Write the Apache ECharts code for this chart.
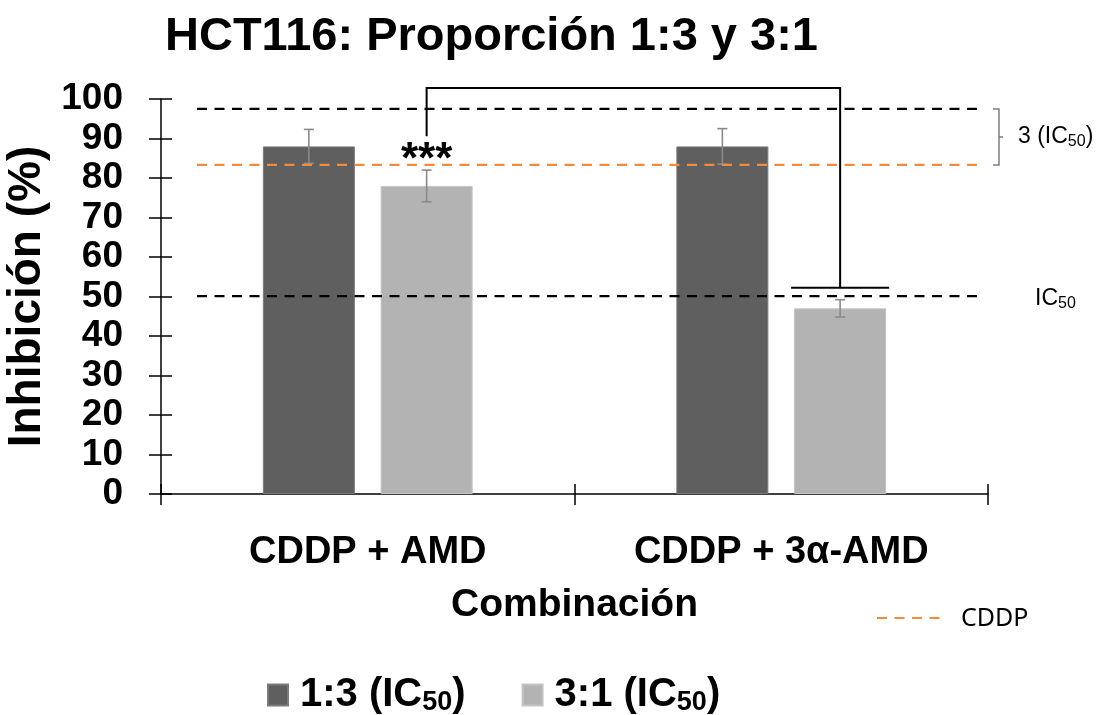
<!DOCTYPE html>
<html>
<head>
<meta charset="utf-8">
<script src="https://cdn.jsdelivr.net/npm/echarts@6/dist/echarts.min.js"></script>
<style>
html,body{margin:0;padding:0;background:#fff;}
#c{width:1098px;height:715px;}
</style>
</head>
<body>
<div id="c"></div>
<script>
// ---- data ----
const categories = ['CDDP + AMD', 'CDDP + 3\u03b1-AMD'];
const seriesNames = ['1:3 (IC50)', '3:1 (IC50)'];
const values13 = [88, 88];
const values31 = [78, 47];
const errors13 = [4.3, 4.5];
const errors31 = [4.0, 2.2];
const yTicks = [0, 10, 20, 30, 40, 50, 60, 70, 80, 90, 100];
const refLines = [
  { name: '3 (IC50)', value: 97.5, color: '#000000' },
  { name: 'CDDP', value: 83.3, color: '#f08a3c' },
  { name: 'IC50', value: 50.1, color: '#000000' }
];
const bracket = { fromCat: 0, toCat: 1, start: 90.6, top: 102.8, end: 52.2 };
const significance = { cat: 0, text: '***', value: 82.3 };

const FONT = '"Liberation Sans", Arial, sans-serif';
const BAR_W = 0.2225;   // fraction of band
const BAR_GAP = 0.28;   // fraction of bar width
const colors = ['#5f5f5f', '#b3b3b3'];

function barOffset(api, i) {
  const band = api.size([1, 0])[0];
  const bw = band * BAR_W;
  return (i - 0.5) * (bw + bw * BAR_GAP);
}

const chart = echarts.init(document.getElementById('c'), null, { renderer: 'canvas' });

const errData = [];
[values13, values31].forEach((vals, si) => {
  const errs = si === 0 ? errors13 : errors31;
  vals.forEach((v, ci) => errData.push([ci, v, errs[ci], si]));
});

const option = {
  backgroundColor: '#ffffff',
  animation: false,
  title: {
    text: 'HCT116: Proporción 1:3 y 3:1',
    left: 160,
    top: 9,
    textStyle: { fontFamily: FONT, fontWeight: 'bold', fontSize: 47, color: '#000' }
  },
  legend: {
    data: seriesNames,
    left: 262,
    top: 670,
    itemWidth: 20,
    itemHeight: 21,
    itemGap: 56,
    icon: 'rect',
    formatter: function (name) {
      const base = name.replace('(IC50)', '');
      return '{sp|}{t|' + base + '(IC}{s|50}{t|)}';
    },
    textStyle: {
      fontFamily: FONT,
      rich: {
        sp: { width: 7 },
        t: { fontFamily: FONT, fontWeight: 'bold', fontSize: 40, color: '#000' },
        s: { fontFamily: FONT, fontWeight: 'bold', fontSize: 27, color: '#000', padding: [15, 0, 0, 0] }
      }
    }
  },
  grid: { left: 161, right: 110, top: 99, bottom: 221, containLabel: false, outerBoundsMode: 'none' },
  xAxis: [
    {
      type: 'category',
      data: categories,
      position: 'bottom',
      axisLine: { lineStyle: { color: '#000', width: 1.5 } },
      axisTick: { show: true, inside: false, length: 11, lineStyle: { color: '#000', width: 1.5 } },
      axisLabel: { margin: 40, fontFamily: FONT, fontWeight: 'bold', fontSize: 38, color: '#000' },
      name: 'Combinación',
      nameLocation: 'middle',
      nameGap: 92,
      nameTextStyle: { fontFamily: FONT, fontWeight: 'bold', fontSize: 39, color: '#000', verticalAlign: 'top' }
    },
    {
      type: 'category',
      data: categories,
      position: 'bottom',
      gridIndex: 0,
      axisLine: { show: false },
      axisTick: { show: true, inside: true, length: 10, lineStyle: { color: '#000', width: 1.5 } },
      axisLabel: { show: false }
    }
  ],
  yAxis: [
    {
      type: 'value',
      min: 0, max: 100, interval: 10,
      axisLine: { show: true, lineStyle: { color: '#000', width: 1.5 } },
      axisTick: { show: true, inside: false, length: 12, lineStyle: { color: '#000', width: 1.5 } },
      axisLabel: {
        margin: 38, fontFamily: FONT, fontWeight: 'bold', fontSize: 37, color: '#000',
        formatter: v => (yTicks.indexOf(v) >= 0 ? String(v) : '')
      },
      splitLine: { show: false },
      name: 'Inhibición (%)',
      nameLocation: 'middle',
      nameGap: 110,
      nameRotate: 90,
      nameTextStyle: { fontFamily: FONT, fontWeight: 'bold', fontSize: 46, color: '#000' }
    },
    {
      type: 'value',
      min: 0, max: 100, interval: 10,
      position: 'left',
      axisLine: { show: false },
      axisTick: { show: true, inside: true, length: 11, lineStyle: { color: '#000', width: 1.5 } },
      axisLabel: { show: false },
      splitLine: { show: false }
    }
  ],
  series: [
    {
      name: seriesNames[0], type: 'bar', data: values13,
      barWidth: (BAR_W * 100) + '%', barGap: (BAR_GAP * 100) + '%',
      itemStyle: { color: colors[0], borderColor: '#7a7a7a', borderWidth: 1 },
      z: 2
    },
    {
      name: seriesNames[1], type: 'bar', data: values31,
      barWidth: (BAR_W * 100) + '%', barGap: (BAR_GAP * 100) + '%',
      itemStyle: { color: colors[1], borderColor: '#c4c4c4', borderWidth: 1 },
      z: 2
    },
    // error bars
    {
      type: 'custom', silent: true, z: 3,
      data: errData,
      encode: { x: 0, y: 1 },
      renderItem: function (params, api) {
        const ci = api.value(0), v = api.value(1), e = api.value(2), si = api.value(3);
        const c = api.coord([ci, v]);
        const x = c[0] + barOffset(api, si);
        const hi = api.coord([ci, v + e])[1];
        const lo = api.coord([ci, v - e])[1];
        const cap = 5;
        const st = { stroke: '#8a8a8a', lineWidth: 1.6 };
        return {
          type: 'group',
          children: [
            { type: 'line', shape: { x1: x, y1: hi, x2: x, y2: lo }, style: st },
            { type: 'line', shape: { x1: x - cap, y1: hi, x2: x + cap, y2: hi }, style: st },
            { type: 'line', shape: { x1: x - cap, y1: lo, x2: x + cap, y2: lo }, style: st }
          ]
        };
      }
    },
    // reference dashed lines
    {
      type: 'custom', silent: true, z: 4, clip: false,
      data: refLines.map(r => [0, r.value]),
      encode: { x: 0, y: 1 },
      renderItem: function (params, api) {
        const r = refLines[params.dataIndex];
        const y = api.coord([0, r.value])[1];
        const cs = params.coordSys;
        return {
          type: 'line',
          shape: { x1: cs.x + 36, y1: y, x2: cs.x + cs.width - 5, y2: y },
          style: { stroke: r.color, lineWidth: 2.2, lineDash: [10, 7.5] }
        };
      }
    },
    // significance bracket + stars
    {
      type: 'custom', silent: true, z: 5, clip: false,
      data: [[bracket.fromCat, bracket.start]],
      encode: { x: 0, y: 1 },
      renderItem: function (params, api) {
        const x1 = api.coord([bracket.fromCat, 0])[0] + barOffset(api, 1);
        const x2 = api.coord([bracket.toCat, 0])[0] + barOffset(api, 1);
        const yS = api.coord([0, bracket.start])[1];
        const yT = api.coord([0, bracket.top])[1];
        const yE = api.coord([0, bracket.end])[1];
        const band = api.size([1, 0])[0];
        const half = band * BAR_W / 2 + 3;
        const st = { stroke: '#000', lineWidth: 2, fill: null };
        const sx = api.coord([significance.cat, 0])[0] + barOffset(api, 1);
        const sy = api.coord([0, significance.value])[1];
        return {
          type: 'group',
          children: [
            { type: 'polyline', shape: { points: [[x1, yS], [x1, yT], [x2, yT], [x2, yE]] }, style: st },
            { type: 'line', shape: { x1: x2 - half, y1: yE, x2: x2 + half, y2: yE }, style: st },
            { type: 'text', style: { text: significance.text, x: sx, y: sy + 14, align: 'center', verticalAlign: 'bottom',
              font: 'bold 44px ' + FONT, fill: '#000' } }
          ]
        };
      }
    },
    // right-side brace and labels
    {
      type: 'custom', silent: true, z: 5, clip: false,
      data: [[0, refLines[0].value]],
      encode: { x: 0, y: 1 },
      renderItem: function (params, api) {
        const cs = params.coordSys;
        const xr = cs.x + cs.width;
        const yA = api.coord([0, refLines[0].value])[1];
        const yB = api.coord([0, refLines[1].value])[1];
        const yC = api.coord([0, refLines[2].value])[1];
        const bx = xr + 5, bw = 6;
        const mid = (yA + yB) / 2;
        const path = 'M' + bx + ' ' + yA + ' L' + (bx + bw) + ' ' + yA + ' L' + (bx + bw) + ' ' + yB + ' L' + bx + ' ' + yB +
          ' M' + (bx + bw) + ' ' + mid + ' L' + (bx + bw + 4) + ' ' + mid;
        const tf = '23px "Liberation Sans", Arial, sans-serif';
        const sf = '16px "Liberation Sans", Arial, sans-serif';
        return {
          type: 'group',
          children: [
            { type: 'path', shape: { pathData: path }, style: { stroke: '#7f7f7f', lineWidth: 1.5, fill: null } },
            { type: 'text', style: {
              text: '{t|3 (IC}{s|50}{t|)}', x: xr + 30, y: mid, verticalAlign: 'middle',
              rich: { t: { font: tf, fill: '#000' }, s: { font: sf, fill: '#000', padding: [9, 0, 0, 0] } }
            } },
            { type: 'text', style: {
              text: '{t|IC}{s|50}', x: xr + 47, y: yC + 3, verticalAlign: 'middle',
              rich: { t: { font: tf, fill: '#000' }, s: { font: sf, fill: '#000', padding: [9, 0, 0, 0] } }
            } }
          ]
        };
      }
    }
  ],
  graphic: [
    { type: 'line', shape: { x1: 877, y1: 618, x2: 942, y2: 618 },
      style: { stroke: '#f08a3c', lineWidth: 2.2, lineDash: [10, 7.5] } },
    { type: 'text', x: 961, y: 619, style: { text: 'CDDP', font: '25px "Noto Sans", "Liberation Sans", sans-serif', fill: '#000', verticalAlign: 'middle' } }
  ]
};

chart.setOption(option);
</script>
</body>
</html>
